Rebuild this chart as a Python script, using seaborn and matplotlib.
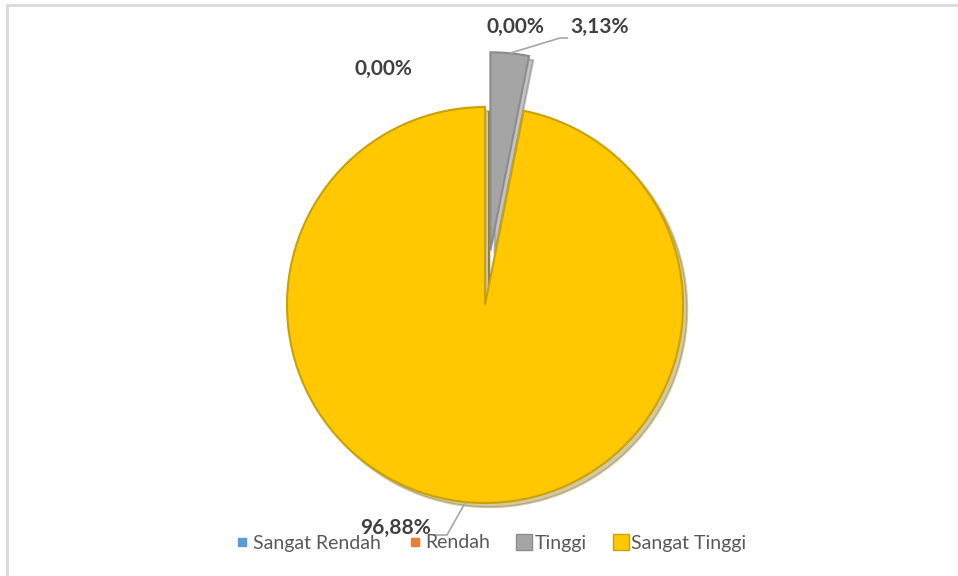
import numpy as np
import matplotlib
matplotlib.use("Agg")
import matplotlib.pyplot as plt
import seaborn as sns
from matplotlib.lines import Line2D

categories = ["Sangat Rendah", "Rendah", "Tinggi", "Sangat Tinggi"]
values = [0.00, 0.00, 3.13, 96.88]
labels = ["0,00%", "0,00%", "3,13%", "96,88%"]
colors = ["#5B9BD5", "#ED7D31", "#A5A5A5", "#FFC800"]
edgecolors = ["#5B9BD5", "#ED7D31", "#8C8C8C", "#C9A200"]
explode = [0, 0, 55, 0]

sns.set_theme(style="white")
plt.rcParams["font.family"] = ["Lato", "DejaVu Sans"]

W, H = 958, 576
fig = plt.figure(figsize=(W / 100, H / 100), dpi=100)
ax = fig.add_axes([0, 0, 1, 1])

cx, cy, R = 485, H - 305, 198
wedges, _ = ax.pie(values, colors=colors, startangle=90, counterclock=False,
                   explode=explode, center=(cx, cy), radius=R, frame=True,
                   wedgeprops=dict(linewidth=1.5),
                   shadow=dict(ox=3, oy=-3, shade=0.5, alpha=0.35))
for w, ec in zip(wedges, edgecolors):
    w.set_edgecolor(ec)
ax.set_xlim(0, W)
ax.set_ylim(0, H)
ax.set_aspect("equal")
ax.axis("off")

# label positions (layout)
label_pos = [(383, H - 69), (515, H - 27), (600, H - 27), (396, H - 528)]
txt_color = "#404040"
for w, lab, pos in zip(wedges, labels, label_pos):
    ax.text(pos[0], pos[1], lab, ha="center", va="center", fontsize=15,
            fontweight="bold", color=txt_color)

# leader lines for Tinggi and Sangat Tinggi
for i, (elbow, end) in zip([2, 3], [((560, H - 38), (568, H - 38)),
                                   ((447, H - 535), (433, H - 535))]):
    w = wedges[i]
    th = np.deg2rad((w.theta1 + w.theta2) / 2)
    x0 = w.center[0] + w.r * np.cos(th)
    y0 = w.center[1] + w.r * np.sin(th)
    ax.plot([x0, elbow[0], end[0]], [y0, elbow[1], end[1]],
            color="#A6A6A6", lw=1.2, solid_capstyle="butt")

# frame lines
fig.add_artist(Line2D([7 / W, 7 / W], [0, 1 - 5 / H], color="#D9D9D9", lw=2))
fig.add_artist(Line2D([7 / W, 1], [1 - 5 / H, 1 - 5 / H], color="#D9D9D9", lw=2))

msizes = [6, 6, 11, 11]
handles = [Line2D([0], [0], marker="s", linestyle="none", markersize=ms,
                  markerfacecolor=c, markeredgecolor=ec)
           for c, ec, ms in zip(colors, edgecolors, msizes)]
fig.legend(handles, categories, loc="center", bbox_to_anchor=(0.5127, 1 - 543 / H),
           ncol=4, frameon=False, fontsize=14, handletextpad=0.23,
           columnspacing=1.44, handlelength=0.62, labelcolor="#595959",
           borderpad=0, borderaxespad=0)

fig.savefig("out.png", dpi=100, facecolor="white")
